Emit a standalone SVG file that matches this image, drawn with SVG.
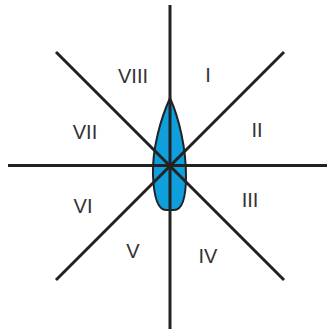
<svg xmlns="http://www.w3.org/2000/svg" width="327" height="329" viewBox="0 0 327 329">
<style>
.ln{stroke:#222;stroke-width:3;fill:none}
.lb{font-family:"Liberation Sans",Arial,sans-serif;font-size:20px;fill:#333;text-anchor:middle}
</style>
<rect width="327" height="329" fill="#fff"/>
<g id="lens">
<path d="M170,98 C161,118 152,148 153,176 C154,198 158,210 166,210 L174,210 C182,210 186,198 186,176 C186,148 179,118 170,98 Z" fill="#0e9fdc" stroke="#222" stroke-width="2"/>
</g>
<g id="connectors">
<line class="ln" x1="170" y1="5" x2="170" y2="329"/>
<line class="ln" x1="8" y1="165.5" x2="327" y2="165.5"/>
<line class="ln" x1="56" y1="52" x2="284" y2="280"/>
<line class="ln" x1="284" y1="52" x2="56" y2="280"/>
</g>
<g id="labels">
<text class="lb" x="133" y="83">VIII</text>
<text class="lb" x="208" y="82">I</text>
<text class="lb" x="257" y="137">II</text>
<text class="lb" x="85" y="139">VII</text>
<text class="lb" x="250" y="207">III</text>
<text class="lb" x="83" y="213">VI</text>
<text class="lb" x="133" y="258">V</text>
<text class="lb" x="208" y="263">IV</text>
</g>
</svg>
